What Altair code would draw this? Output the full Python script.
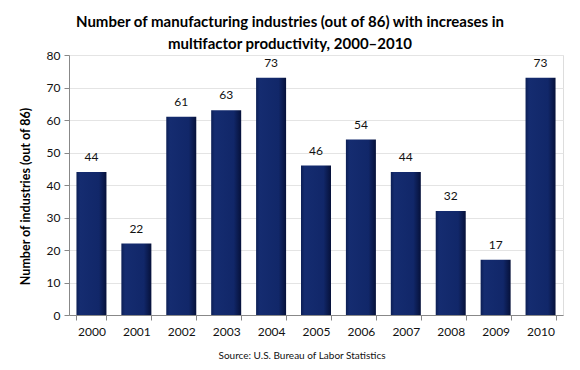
import altair as alt
import pandas as pd

years = ["2000", "2001", "2002", "2003", "2004", "2005", "2006", "2007", "2008", "2009", "2010"]
counts = [44, 22, 61, 63, 73, 46, 54, 44, 32, 17, 73]
y_ticks = [0, 10, 20, 30, 40, 50, 60, 70, 80]
title_lines = ["Number of manufacturing industries (out of 86) with increases in",
               "multifactor productivity, 2000\u20132010"]
y_title = "Number of industries (out of 86)"
source_text = "Source: U.S. Bureau of Labor Statistics"

df = pd.DataFrame({"year": years, "count": counts})
FONT = "Lato"

x_enc = alt.X("year:N", sort=years, title=None,
              scale=alt.Scale(paddingInner=0.33, paddingOuter=0.165),
              axis=alt.Axis(labelAngle=0, labelFont=FONT, labelFontSize=12, labelColor="#111",
                            tickBand="extent", tickColor="#888", domainColor="#888",
                            tickSize=5, labelPadding=6))
y_enc = alt.Y("count:Q", title=y_title,
              scale=alt.Scale(domain=[0, 80], nice=False),
              axis=alt.Axis(values=y_ticks, labelFont=FONT, labelFontSize=12, labelColor="#111",
                            titleFont=FONT, titleFontSize=12.5, titleFontWeight="bold",
                            titleColor="#000", titlePadding=14, titleY=141, labelOverlap=False,
                            grid=True, gridColor="#e4e4e4", tickColor="#888",
                            domainColor="#888", tickSize=5, labelPadding=4))

grad = alt.Gradient(gradient="linear", x1=0, x2=1, y1=0, y2=0,
                    stops=[alt.GradientStop(offset=0, color="#0c1f55"),
                           alt.GradientStop(offset=0.12, color="#152c70"),
                           alt.GradientStop(offset=0.75, color="#112769"),
                           alt.GradientStop(offset=1, color="#06113a")])

base = alt.Chart(df)
bars = base.mark_bar(color=grad, size=30).encode(x=x_enc, y=y_enc)
labels = base.mark_text(font=FONT, fontSize=12, color="#111", baseline="bottom", dy=-8).encode(
    x=x_enc, y=y_enc, text="count:Q")
src = alt.Chart(pd.DataFrame({"t": [source_text]})).mark_text(
    font=FONT, fontSize=10, color="#111").encode(
    x=alt.value(233), y=alt.value(301), text="t:N")

chart = alt.layer(bars, labels, src).properties(
    width=494, height=260,
    title=alt.TitleParams(title_lines, font=FONT, fontSize=15, fontWeight="bold",
                          color="#000", anchor="middle", dx=-26, offset=-3, lineHeight=22),
    autosize=alt.AutoSizeParams(type="none"),
    padding={"left": 61, "top": 47, "right": 9, "bottom": 47},
).configure_view(stroke=None).configure(background="white")

chart.save("out.html", embed_options={"renderer": "svg", "actions": False})
